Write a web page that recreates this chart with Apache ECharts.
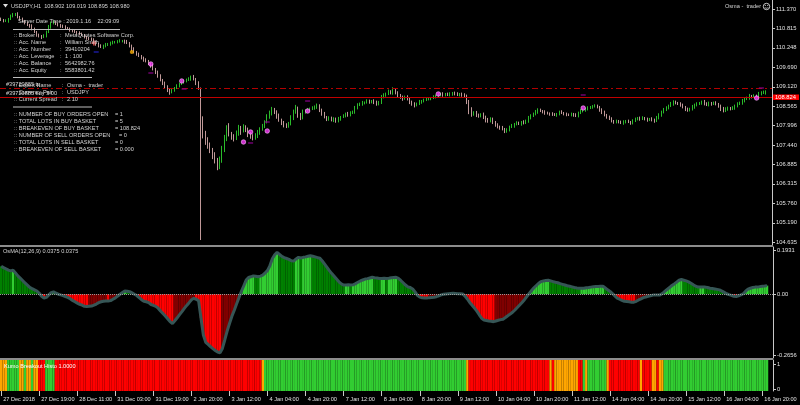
<!DOCTYPE html>
<html>
<head>
<meta charset="utf-8">
<script src="https://cdn.jsdelivr.net/npm/echarts@6/dist/echarts.min.js"></script>
<style>
  html, body { margin: 0; background: #000; }
  #chart { width: 800px; height: 405px; }
</style>
</head>
<body>
<div id="chart"></div>
<script>
// USDJPY H1, 27 Dec 2018 -> 16 Jan 2019, one entry per hourly bar
const tickLabels = ['27 Dec 2018', '27 Dec 19:00', '28 Dec 11:00', '31 Dec 03:00', '31 Dec 19:00', '2 Jan 20:00',
  '3 Jan 12:00', '4 Jan 04:00', '4 Jan 20:00', '7 Jan 12:00', '8 Jan 04:00', '8 Jan 20:00', '9 Jan 12:00',
  '10 Jan 04:00', '10 Jan 20:00', '11 Jan 12:00', '14 Jan 04:00', '14 Jan 20:00', '15 Jan 12:00',
  '16 Jan 04:00', '16 Jan 20:00']
const priceTicks = [104.635, 105.190, 105.760, 106.315, 106.885, 107.440, 107.996, 108.565, 109.120,
  109.690, 110.248, 110.815, 111.370]
const osmaTicks = [-0.2656, 0, 0.1931]

const firstOpen = 111.081
const closes = [
  111.052, 111.023, 111.023, 111.081, 111.168, 111.196, 111.225, 111.139, 111.081, 111.023,
  110.965, 110.907, 110.878, 110.792, 110.705, 110.618, 110.589, 110.560, 110.589, 110.705,
  110.849, 110.965, 110.994, 110.936, 110.907, 110.878, 110.849, 110.821, 110.792, 110.763,
  110.734, 110.705, 110.676, 110.647, 110.618, 110.560, 110.532, 110.503, 110.474, 110.416,
  110.358, 110.300, 110.271, 110.300, 110.329, 110.358, 110.387, 110.402, 110.416, 110.430,
  110.445, 110.445, 110.416, 110.387, 110.300, 110.214, 110.127, 110.069, 110.011, 109.953,
  109.896, 109.867, 109.780, 109.722, 109.635, 109.549, 109.433, 109.318, 109.231, 109.115,
  109.028, 108.971, 109.028, 109.086, 109.144, 109.202, 109.260, 109.289, 109.318, 109.346,
  109.404, 109.346, 109.231, 109.086, 108.017, 107.728, 107.583, 107.410, 107.294, 107.150,
  107.005, 106.860, 107.005, 107.294, 107.641, 107.930, 107.757, 107.670, 107.641, 107.786,
  107.930, 107.872, 107.959, 107.872, 107.757, 107.699, 107.641, 107.699, 107.814, 107.901,
  107.988, 108.103, 108.248, 108.363, 108.450, 108.392, 108.277, 108.161, 108.074, 108.017,
  107.988, 108.046, 108.219, 108.392, 108.508, 108.306, 108.219, 108.392, 108.421, 108.450,
  108.479, 108.508, 108.522, 108.566, 108.450, 108.335, 108.248, 108.190, 108.219, 108.161,
  108.190, 108.132, 108.190, 108.248, 108.277, 108.335, 108.306, 108.363, 108.392, 108.508,
  108.595, 108.624, 108.653, 108.667, 108.710, 108.681, 108.710, 108.681, 108.624, 108.653,
  108.826, 108.884, 108.913, 108.971, 108.942, 109.028, 108.942, 108.884, 108.826, 108.797,
  108.826, 108.768, 108.681, 108.624, 108.595, 108.624, 108.681, 108.710, 108.739, 108.768,
  108.783, 108.797, 108.826, 108.855, 108.884, 108.913, 108.884, 108.913, 108.884, 108.913,
  108.942, 108.913, 108.884, 108.913, 108.884, 108.855, 108.681, 108.450, 108.335, 108.363,
  108.306, 108.277, 108.306, 108.248, 108.161, 108.132, 108.190, 108.103, 108.017, 107.959,
  107.930, 107.901, 107.843, 107.872, 107.959, 107.988, 108.046, 108.074, 108.046, 108.103,
  108.074, 108.132, 108.219, 108.277, 108.335, 108.392, 108.450, 108.421, 108.392, 108.363,
  108.349, 108.335, 108.320, 108.306, 108.335, 108.392, 108.363, 108.335, 108.320, 108.306,
  108.335, 108.306, 108.277, 108.363, 108.421, 108.450, 108.479, 108.508, 108.537, 108.552,
  108.566, 108.537, 108.450, 108.392, 108.306, 108.248, 108.190, 108.132, 108.103, 108.132,
  108.103, 108.074, 108.103, 108.132, 108.103, 108.074, 108.132, 108.190, 108.219, 108.190,
  108.219, 108.190, 108.161, 108.190, 108.161, 108.132, 108.219, 108.306, 108.392, 108.450,
  108.508, 108.566, 108.624, 108.681, 108.653, 108.624, 108.595, 108.537, 108.479, 108.450,
  108.465, 108.537, 108.595, 108.624, 108.653, 108.681, 108.624, 108.595, 108.653, 108.624,
  108.653, 108.624, 108.566, 108.479, 108.421, 108.479, 108.508, 108.479, 108.508, 108.566,
  108.624, 108.653, 108.710, 108.768, 108.797, 108.855, 108.826, 108.855, 108.826, 108.913,
  108.942, 108.971, 108.980
]
// wick lengths above / below the body, in hundredths of a yen
const hiExt = [
  4, 3, 5, 3, 4, 6, 3, 5, 3, 4,  3, 4, 3, 5, 4, 3, 4, 3, 5, 4,  6, 4, 5, 3, 4, 3, 4, 5, 3, 4,
  3, 4, 3, 5, 4, 3, 4, 3, 4, 5,  4, 3, 5, 4, 6, 3, 4, 5, 3, 4,  5, 3, 4, 6, 3, 4, 5, 3, 4, 3,
  4, 5, 3, 4, 6, 3, 4, 5, 3, 4,  5, 4, 6, 3, 5, 4, 6, 3, 4, 5,  4, 6, 3, 5, 2, 25, 12, 8, 10, 6,
  8, 6, 10, 12, 9, 8, 14, 6, 8, 7,  9, 6, 8, 5, 7, 6, 5, 8, 6, 5,  6, 5, 8, 7, 9, 6, 5, 7, 4, 6,
  5, 6, 8, 7, 9, 4, 6, 7, 5, 6,  4, 5, 6, 7, 5, 4, 6, 3, 5, 4,  5, 4, 6, 3, 5, 4, 6, 5, 4, 6,
  5, 4, 6, 3, 5, 4, 3, 5, 4, 6,  6, 5, 4, 7, 5, 8, 4, 5, 3, 4,  4, 5, 3, 4, 5, 4, 6, 3, 4, 5,
  4, 3, 5, 4, 6, 4, 5, 3, 4, 5,  3, 4, 5, 3, 4, 5, 4, 6, 8, 5,  6, 4, 5, 7, 4, 6, 5, 4, 3, 5,
  4, 6, 3, 5, 4, 6, 3, 5, 4, 3,  5, 4, 6, 5, 4, 6, 5, 4, 3, 5,  4, 3, 5, 4, 3, 4, 5, 3, 4, 3,
  4, 3, 5, 4, 6, 5, 4, 5, 3, 4,  5, 4, 3, 5, 4, 3, 4, 5, 3, 4,  3, 4, 5, 3, 4, 3, 5, 4, 3, 4,
  5, 3, 4, 3, 5, 4, 6, 5, 4, 6,  5, 4, 6, 5, 4, 3, 5, 4, 3, 4,  5, 6, 4, 5, 3, 4, 6, 5, 4, 3,
  4, 5, 3, 4, 6, 5, 4, 3, 5, 4,  5, 4, 6, 5, 4, 6, 3, 5, 4, 6,  5, 4, 0
]
const loExt = [
  3, 4, 3, 5, 3, 4, 3, 4, 5, 3,  4, 3, 5, 4, 3, 5, 4, 6, 3, 4,  3, 5, 4, 3, 4, 5, 3, 4, 3, 5,
  4, 3, 5, 4, 3, 4, 5, 4, 3, 4,  5, 4, 3, 6, 4, 3, 5, 4, 3, 4,  3, 4, 5, 3, 4, 6, 4, 5, 3, 4,
  5, 4, 3, 5, 4, 6, 5, 4, 6, 5,  6, 8, 4, 5, 3, 4, 3, 5, 4, 3,  5, 4, 6, 5, 0, 10, 14, 8, 9, 12,
  10, 15, 12, 8, 6, 9, 7, 8, 10, 6,  8, 14, 7, 6, 9, 8, 7, 5, 6, 8,  5, 6, 4, 5, 7, 6, 8, 5, 6, 7,
  6, 5, 4, 6, 5, 8, 6, 4, 5, 3,  4, 3, 5, 4, 6, 5, 4, 6, 5, 4,  6, 5, 4, 5, 3, 4, 5, 4, 3, 5,
  4, 3, 5, 4, 3, 5, 4, 6, 5, 4,  3, 4, 5, 3, 4, 5, 4, 6, 5, 8,  5, 4, 6, 5, 7, 4, 3, 5, 4, 3,
  4, 5, 3, 4, 3, 4, 5, 4, 3, 4,  5, 4, 3, 4, 5, 3, 6, 12, 8, 5,  6, 5, 4, 6, 7, 5, 4, 6, 5, 4,
  5, 4, 6, 5, 4, 3, 5, 4, 3, 5,  4, 3, 5, 4, 3, 4, 5, 3, 4, 5,  3, 5, 4, 3, 5, 4, 3, 4, 5, 3,
  4, 5, 3, 4, 3, 4, 5, 4, 3, 5,  3, 4, 5, 6, 4, 5, 3, 4, 5, 4,  4, 3, 5, 4, 3, 5, 4, 3, 4, 5,
  3, 4, 5, 3, 4, 5, 3, 4, 5, 4,  3, 4, 3, 5, 4, 3, 5, 4, 6, 5,  4, 3, 5, 4, 3, 5, 4, 3, 4, 5,
  3, 4, 5, 6, 4, 3, 5, 4, 3, 5,  4, 3, 5, 4, 3, 5, 4, 3, 4, 5,  4, 3, 0
]
// explicit values where the picture shows them (flash-crash bar, current bar)
const openAt = { 322: 108.902 }
const lowAt = { 84: 104.692, 322: 108.895 }
const highAt = { 84: 109.100, 322: 109.019 }

const osma = [
  0.122, 0.116, 0.111, 0.105, 0.102, 0.105, 0.093, 0.080, 0.070, 0.060,
  0.049, 0.040, 0.030, 0.024, 0.019, 0.014, 0.004, -0.009, -0.017, -0.014,
  -0.003, 0.007, 0.010, 0.005, 0.000, -0.003, -0.006, -0.010, -0.014, -0.020,
  -0.027, -0.033, -0.039, -0.044, -0.048, -0.053, -0.054, -0.053, -0.052, -0.048,
  -0.043, -0.037, -0.033, -0.031, -0.030, -0.030, -0.028, -0.022, -0.016, -0.008,
  0.000, 0.007, 0.014, 0.013, 0.011, 0.006, 0.000, -0.006, -0.015, -0.024,
  -0.031, -0.033, -0.037, -0.045, -0.049, -0.053, -0.061, -0.073, -0.084, -0.095,
  -0.107, -0.120, -0.128, -0.116, -0.103, -0.089, -0.076, -0.062, -0.049, -0.037,
  -0.024, -0.018, -0.022, -0.029, -0.104, -0.178, -0.210, -0.219, -0.229, -0.238,
  -0.246, -0.253, -0.256, -0.237, -0.200, -0.161, -0.128, -0.096, -0.070, -0.042,
  -0.014, 0.013, 0.037, 0.062, 0.073, 0.076, 0.080, 0.078, 0.076, 0.079,
  0.083, 0.093, 0.104, 0.125, 0.155, 0.172, 0.183, 0.174, 0.165, 0.160,
  0.156, 0.152, 0.146, 0.145, 0.154, 0.161, 0.158, 0.161, 0.163, 0.166,
  0.168, 0.166, 0.163, 0.160, 0.157, 0.145, 0.131, 0.117, 0.103, 0.090,
  0.078, 0.066, 0.054, 0.045, 0.040, 0.040, 0.041, 0.040, 0.041, 0.046,
  0.052, 0.058, 0.062, 0.066, 0.068, 0.071, 0.074, 0.072, 0.071, 0.069,
  0.069, 0.070, 0.069, 0.070, 0.072, 0.073, 0.074, 0.069, 0.060, 0.050,
  0.040, 0.032, 0.029, 0.023, 0.010, -0.005, -0.013, -0.016, -0.017, -0.017,
  -0.015, -0.014, -0.013, -0.011, -0.007, -0.003, 0.000, 0.001, 0.002, 0.003,
  0.004, 0.003, 0.002, 0.002, 0.001, -0.008, -0.021, -0.036, -0.048, -0.061,
  -0.074, -0.090, -0.105, -0.113, -0.115, -0.117, -0.118, -0.120, -0.117, -0.114,
  -0.111, -0.109, -0.102, -0.094, -0.087, -0.079, -0.069, -0.058, -0.047, -0.036,
  -0.024, -0.010, 0.003, 0.016, 0.028, 0.038, 0.048, 0.055, 0.058, 0.060,
  0.061, 0.058, 0.055, 0.052, 0.050, 0.046, 0.043, 0.040, 0.037, 0.035,
  0.032, 0.029, 0.027, 0.026, 0.026, 0.026, 0.028, 0.029, 0.031, 0.033,
  0.034, 0.034, 0.035, 0.035, 0.027, 0.019, 0.012, 0.003, -0.007, -0.017,
  -0.022, -0.027, -0.031, -0.032, -0.033, -0.035, -0.035, -0.031, -0.025, -0.020,
  -0.015, -0.012, -0.009, -0.007, -0.004, -0.003, -0.003, -0.003, 0.003, 0.012,
  0.021, 0.029, 0.038, 0.045, 0.053, 0.061, 0.064, 0.061, 0.058, 0.054,
  0.048, 0.041, 0.035, 0.031, 0.031, 0.032, 0.031, 0.029, 0.026, 0.025,
  0.023, 0.021, 0.019, 0.014, 0.008, 0.002, -0.002, -0.005, -0.009, -0.010,
  -0.007, -0.003, 0.002, 0.013, 0.022, 0.026, 0.029, 0.031, 0.031, 0.033,
  0.035, 0.036, 0.0375
]

// Kumo Breakout Histo: runs of bars (length, state) o = orange, g = green, r = red
const kumoRuns = [3, 5, 2, 1, 2, 1, 2, 3, 4, 87, 1, 85, 1, 34, 1, 1, 10, 2, 1, 1, 8, 1, 13, 1, 4, 2, 1, 2, 44]
const kumoKinds = ['o', 'g', 'o', 'g', 'o', 'g', 'o', 'r', 'g', 'r', 'o', 'g', 'o', 'r', 'o', 'r', 'o', 'r', 'g', 'o',
  'g', 'o', 'r', 'o', 'r', 'o', 'r', 'o', 'g']

// order markers on the price chart
const markIdx = [63, 76, 102, 105, 112, 129, 184, 245, 318]
const markPrice = [109.780, 109.289, 107.525, 107.814, 107.843, 108.421, 108.913, 108.508, 108.797]
const dashIdx = [63, 77, 105, 112, 129, 245, 320]
const dashPrice = [109.520, 109.057, 107.497, 108.103, 108.710, 108.884, 109.086]

const buyLevel = 108.824
const tpLevel = 109.086
const bidLevel = 108.980

const FONT = "'Liberation Sans', Arial, sans-serif"
const TXT = '#d4d4d4'
const NBARS = 325

const cats = []
for (let i = 0; i < NBARS; i++) cats.push(i)

const ohlc = closes.map((c, i) => {
  const o = openAt[i] !== undefined ? openAt[i] : (i === 0 ? firstOpen : closes[i - 1])
  const lo = lowAt[i] !== undefined ? lowAt[i] : Math.min(o, c) - loExt[i] / 100
  const hi = highAt[i] !== undefined ? highAt[i] : Math.max(o, c) + hiExt[i] / 100
  return [o, c, lo, hi]
})

const osmaBars = osma.map((v, i) => {
  const prev = i === 0 ? Infinity : osma[i - 1]
  let col
  if (v >= 0) col = v >= prev ? '#32cd32' : '#008000'
  else col = v <= prev ? '#ff0000' : '#800000'
  return { value: v, itemStyle: { color: col } }
})

const kumoColor = { o: '#ffa500', g: '#32cd32', r: '#ff0000' }
const kumoBars = []
kumoRuns.forEach((n, k) => {
  for (let j = 0; j < n; j++) kumoBars.push({ value: 1, itemStyle: { color: kumoColor[kumoKinds[k]] } })
})

const showTick = (idx) => idx % 16 === 0

const xBase = {
  type: 'category', data: cats, boundaryGap: true,
  axisLine: { show: false }, axisTick: { show: false }, axisLabel: { show: false }, splitLine: { show: false }
}

function txt(x, y, s, extra) {
  return {
    type: 'text', x: x, y: y, z: 100, silent: true,
    style: Object.assign({ text: s, fill: TXT, font: '5.6px ' + FONT, verticalAlign: 'middle' }, extra || {})
  }
}
function hline(x1, x2, y, color) {
  return { type: 'line', z: 100, silent: true, shape: { x1: x1, y1: y, x2: x2, y2: y }, style: { stroke: color || '#bdbdbd', lineWidth: 1 } }
}

// info panel text
const accLabels = [':: Broker', ':: Acc. Name', ':: Acc. Number', ':: Acc. Leverage', ':: Acc. Balance', ':: Acc. Equity']
const accValues = ['MetaQuotes Software Corp.', 'William Smith', '39410204', '1 : 100', '5642982.76', '5583801.42']
const accY = [35, 42.5, 49.5, 56.5, 63.5, 70.5]
const eaLabels = [':: Expert Name', ':: Currency Pair', ':: Current Spread']
const eaValues = ['Osma -  trader', 'USDJPY', '2.10']
const eaY = [85, 92, 99]
const basketLabels = [':: NUMBER OF BUY ORDERS OPEN', ':: TOTAL LOTS IN BUY BASKET', ':: BREAKEVEN OF BUY BASKET',
  ':: NUMBER OF SELL ORDERS OPEN', ':: TOTAL LOTS IN SELL BASKET', ':: BREAKEVEN OF SELL BASKET']
const basketValues = ['= 1', '= 5', '= 108.824', '= 0', '= 0', '= 0.000']
const basketY = [114, 121, 128, 135, 142, 149]
const basketX = [115, 115, 115, 119, 115, 115]

const graphics = [
  { type: 'rect', z: 90, silent: true, shape: { x: 0, y: 245, width: 773, height: 2 }, style: { fill: '#8c8c8c' } },
  { type: 'rect', z: 90, silent: true, shape: { x: 0, y: 358, width: 773, height: 2 }, style: { fill: '#8c8c8c' } },
  { type: 'polygon', z: 100, silent: true, shape: { points: [[3, 4], [8, 4], [5.5, 7.5]] }, style: { fill: '#dddddd' } },
  txt(11, 6, 'USDJPY,H1  108.902 109.019 108.895 108.980'),
  txt(761, 6.5, 'Osma -  trader', { align: 'right' }),
  { type: 'circle', z: 100, silent: true, shape: { cx: 766.5, cy: 6.5, r: 3.2 }, style: { fill: '#000', stroke: '#e0e0e0', lineWidth: 0.9 } },
  { type: 'circle', z: 101, silent: true, shape: { cx: 765.3, cy: 5.6, r: 0.5 }, style: { fill: '#e0e0e0' } },
  { type: 'circle', z: 101, silent: true, shape: { cx: 767.7, cy: 5.6, r: 0.5 }, style: { fill: '#e0e0e0' } },
  { type: 'arc', z: 101, silent: true, shape: { cx: 766.5, cy: 6.6, r: 1.7, startAngle: 0.4, endAngle: Math.PI - 0.4 }, style: { stroke: '#e0e0e0', lineWidth: 0.7, fill: null } },
  txt(18, 21, 'Server Date Time : 2019.1.16    22:09:09'),
  hline(13, 120, 29.5),
  hline(13, 92, 77.5),
  hline(13, 92, 107),
  txt(6, 84, '#39720885 tp'),
  txt(6, 93.5, '#39720885 buy 5.00'),
  txt(3, 251.5, 'OsMA(12,26,9) 0.0375 0.0375'),
  txt(4, 366, 'Kumo Breakout Histo 1.0000', { fill: '#ffffff' })
]
accLabels.forEach((s, k) => {
  graphics.push(txt(14, accY[k], s), txt(60, accY[k], ':'), txt(65, accY[k], accValues[k]))
})
eaLabels.forEach((s, k) => {
  graphics.push(txt(14, eaY[k], s), txt(61.5, eaY[k], ':'), txt(67, eaY[k], eaValues[k]))
})
basketLabels.forEach((s, k) => {
  graphics.push(txt(14, basketY[k], s), txt(basketX[k], basketY[k], basketValues[k]))
})

const chart = echarts.init(document.getElementById('chart'), null, { renderer: 'canvas' })

chart.setOption({
  animation: false,
  backgroundColor: '#000000',
  grid: [
    { left: 0, right: 27, top: 0, height: 245 },
    { left: 0, right: 27, top: 247, height: 111 },
    { left: 0, right: 27, top: 360, height: 31 }
  ],
  xAxis: [
    Object.assign({}, xBase, { gridIndex: 0 }),
    Object.assign({}, xBase, { gridIndex: 1 }),
    Object.assign({}, xBase, {
      gridIndex: 2, offset: 5,
      axisTick: { show: true, alignWithLabel: true, interval: showTick, length: 5, lineStyle: { color: '#c8c8c8' } },
      axisLabel: {
        show: true, interval: showTick, align: 'left', margin: 0, padding: [0, 0, 0, 2],
        formatter: (v, i) => tickLabels[i / 16] || '',
        color: '#e0e0e0', fontSize: 5.6, fontFamily: FONT
      }
    })
  ],
  yAxis: [
    {
      gridIndex: 0, type: 'value', position: 'right', min: 104.548, max: 111.630,
      axisLine: { show: true, lineStyle: { color: '#c8c8c8' } },
      axisTick: { show: true, length: 3, customValues: priceTicks, lineStyle: { color: '#c8c8c8' } },
      axisLabel: { customValues: priceTicks, formatter: v => v.toFixed(3), color: '#e0e0e0', fontSize: 5.8, fontFamily: FONT, margin: 4 },
      splitLine: { show: false }
    },
    {
      gridIndex: 1, type: 'value', position: 'right', min: -0.2787, max: 0.2062,
      axisLine: { show: true, lineStyle: { color: '#c8c8c8' } },
      axisTick: { show: true, length: 3, customValues: osmaTicks, lineStyle: { color: '#c8c8c8' } },
      axisLabel: { customValues: osmaTicks, formatter: v => v === 0 ? '0.00' : v.toFixed(4), color: '#e0e0e0', fontSize: 5.8, fontFamily: FONT, margin: 4 },
      splitLine: { show: false }
    },
    { gridIndex: 2, type: 'value', min: 0, max: 1, show: false },
    {
      gridIndex: 2, type: 'value', position: 'right', min: -0.08, max: 1.16,
      axisLine: { show: true, lineStyle: { color: '#c8c8c8' } },
      axisTick: { show: true, length: 3, customValues: [0, 1], lineStyle: { color: '#c8c8c8' } },
      axisLabel: { customValues: [0, 1], formatter: v => String(v), color: '#e0e0e0', fontSize: 5.8, fontFamily: FONT, margin: 4 },
      splitLine: { show: false }
    }
  ],
  graphic: graphics,
  series: [
    {
      type: 'candlestick', xAxisIndex: 0, yAxisIndex: 0, data: ohlc, barWidth: 1.3,
      itemStyle: { color: '#2fd02f', color0: '#d6aaaa', borderColor: '#2fd02f', borderColor0: '#d6aaaa', borderWidth: 0.9 },
      markLine: {
        silent: true, symbol: ['none', 'none'], animation: false,
        data: [
          { yAxis: tpLevel, lineStyle: { color: '#b40000', width: 1, type: [6, 3, 2, 3] }, label: { show: false } },
          {
            yAxis: buyLevel, lineStyle: { color: '#c00000', width: 1, type: 'solid' },
            label: { show: true, position: 'end', distance: 1, formatter: buyLevel.toFixed(3), color: '#ffffff', backgroundColor: '#ff0000', padding: [0, 3, 0, 2], fontSize: 5.8, lineHeight: 5.5, fontFamily: FONT }
          },
          {
            yAxis: bidLevel, lineStyle: { opacity: 0 },
            label: { show: true, position: 'end', distance: 1, formatter: bidLevel.toFixed(3), color: '#000000', backgroundColor: '#ffffff', padding: [0, 3, 0, 2], fontSize: 5.8, lineHeight: 5.5, fontFamily: FONT }
          }
        ]
      }
    },
    {
      type: 'scatter', xAxisIndex: 0, yAxisIndex: 0, symbol: 'circle', symbolSize: 4.5, z: 5,
      itemStyle: { color: '#ff3cff', borderColor: '#ffb0ff', borderWidth: 0.8 },
      data: markIdx.map((x, k) => [x, markPrice[k]])
    },
    {
      type: 'scatter', xAxisIndex: 0, yAxisIndex: 0, symbol: 'rect', symbolSize: [5, 1.5], z: 5,
      itemStyle: { color: '#8b008b' },
      data: dashIdx.map((x, k) => [x, dashPrice[k]])
    },
    {
      type: 'scatter', xAxisIndex: 0, yAxisIndex: 0, z: 5,
      data: [
        { value: [55, 110.127], symbol: 'circle', symbolSize: 4, itemStyle: { color: '#ffb000' } },
        { value: [39, 110.387], symbol: 'path://M2,0h2v2h2v2h-2v2h-2v-2h-2v-2h2z', symbolSize: 5, itemStyle: { color: '#ff5050' } },
        { value: [40, 110.127], symbol: 'rect', symbolSize: [5, 1.5], itemStyle: { color: '#2020c0' } }
      ]
    },
    {
      type: 'bar', xAxisIndex: 1, yAxisIndex: 1, data: osmaBars, barCategoryGap: '0%', barGap: '0%',
      markLine: {
        silent: true, symbol: ['none', 'none'], label: { show: false },
        lineStyle: { color: '#9a9a9a', type: 'dotted', width: 1 },
        data: [{ yAxis: 0 }]
      }
    },
    {
      type: 'line', xAxisIndex: 1, yAxisIndex: 1, data: osma, showSymbol: false, z: 4,
      lineStyle: { color: '#365656', width: 3 }
    },
    {
      type: 'bar', xAxisIndex: 2, yAxisIndex: 2, data: kumoBars, barCategoryGap: '0%', barGap: '0%'
    }
  ]
})
</script>
</body>
</html>
